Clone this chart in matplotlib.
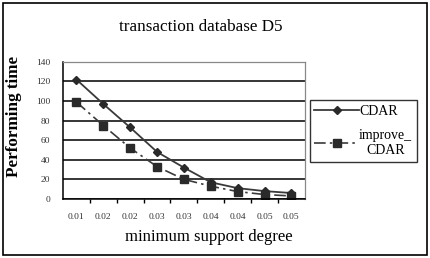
import matplotlib
matplotlib.use('Agg')
import matplotlib.pyplot as plt
from matplotlib.patches import Rectangle
import numpy as np

# data
support = ['0.01', '0.02', '0.02', '0.03', '0.03', '0.04', '0.04', '0.05', '0.05']
cdar = [122, 97, 73, 48, 32, 17, 11, 8, 6]
improve_cdar = [99, 75, 52, 33, 20, 13, 7.5, 4.5, 3]

plt.rcParams['font.family'] = ['Liberation Serif', 'DejaVu Serif']

fig = plt.figure(figsize=(4.3, 2.58), dpi=100)
ax = fig.add_axes([0.1465, 0.229, 0.5625, 0.531])

x = np.arange(len(support))
ax.plot(x, cdar, '-', color='#3a3a3a', lw=1.3, marker='D', ms=4.5,
        mfc='#2a2a2a', mec='#2a2a2a', label='CDAR')
ax.plot(x, improve_cdar, linestyle=(0, (7, 2.5, 1.5, 2.5)), color='#3a3a3a', lw=1.2,
        marker='s', ms=6, mfc='#2a2a2a', mec='#2a2a2a', label='improve_\nCDAR')

ax.set_xlim(-0.5, len(support) - 0.5)
ax.set_ylim(0, 140)
ax.set_yticks(range(0, 141, 20))
ax.yaxis.grid(True, color='black', lw=1.1)
ax.set_axisbelow(True)
ax.tick_params(axis='y', length=0, labelsize=6.8, pad=9, labelcolor='#333333')

# category labels centred, tick marks between categories
ax.set_xticks(x)
ax.set_xticklabels(support)
ax.set_xticks(np.arange(0.5, len(support) - 0.5, 1), minor=True)
ax.tick_params(axis='x', which='major', length=0, labelsize=6.8, pad=10, labelcolor='#333333')
ax.tick_params(axis='x', which='minor', length=3, width=1, direction='out')

for s in ['left', 'bottom']:
    ax.spines[s].set_color('black')
    ax.spines[s].set_linewidth(1.1)
for s in ['top', 'right']:
    ax.spines[s].set_color('#888888')
    ax.spines[s].set_linewidth(0.9)

fig.text(0.467, 0.895, 'transaction database D5', ha='center', va='center', fontsize=12.3)
fig.text(0.033, 0.547, 'Performing time', ha='center', va='center', rotation=90,
         fontsize=12.3, fontweight='bold')
fig.text(0.486, 0.08, 'minimum support degree', ha='center', va='center', fontsize=12)

leg = ax.legend(loc='upper left', bbox_to_anchor=(0.72, 0.612), bbox_transform=fig.transFigure,
                frameon=True, fancybox=False, edgecolor='black', fontsize=10,
                handlelength=3.2, handletextpad=0.0, borderpad=0.35, labelspacing=0.8,
                borderaxespad=0)
leg.get_frame().set_linewidth(1.0)
for t in leg.get_texts():
    t.set_multialignment('center')

# figure border
fig.patches.append(Rectangle((0.007, 0.012), 0.986, 0.976, transform=fig.transFigure,
                             fill=False, edgecolor='black', lw=1.2))

fig.savefig('out.png', dpi=100)
